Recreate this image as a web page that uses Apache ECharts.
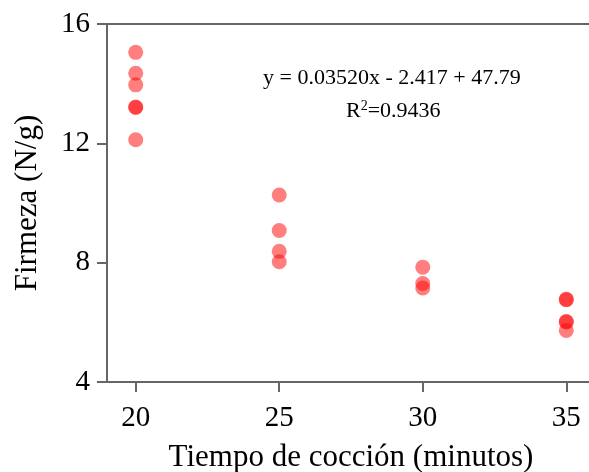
<!DOCTYPE html>
<html>
<head>
<meta charset="utf-8">
<script src="https://cdn.jsdelivr.net/npm/echarts@6/dist/echarts.min.js"></script>
<style>
  html, body { margin: 0; padding: 0; background: #fff; }
  #chart { width: 589px; height: 472px; }
</style>
</head>
<body>
<div id="chart"></div>
<script>
// firmeza medida por tiempo de coccion
const xTicks = [20, 25, 30, 35];
const yTicks = [4, 8, 12, 16];
const firm20 = [15.05, 14.35, 13.96, 13.22, 13.2, 12.12];
const firm25 = [10.27, 9.08, 8.38, 8.03];
const firm30 = [7.85, 7.3, 7.15];
const firm35 = [6.77, 6.76, 6.03, 6.01, 5.73];
const eqText = "y = 0.03520x - 2.417 + 47.79";
const r2Text = "0.9436";

const points = [];
[[20, firm20], [25, firm25], [30, firm30], [35, firm35]].forEach(([t, vals]) => {
  vals.forEach(v => points.push([t, v]));
});

const font = "'Liberation Serif', 'DejaVu Serif', serif";
const axisColor = "#666";

const chart = echarts.init(document.getElementById("chart"));
const option = {
  animation: false,
  grid: { left: 107, top: 24, width: 488, height: 358, outerBoundsMode: "none" },
  xAxis: [
    {
      type: "value",
      min: 19,
      max: 36,
      name: "Tiempo de cocción (minutos)",
      nameLocation: "middle",
      nameGap: 60,
      nameTextStyle: { fontFamily: font, fontSize: 31, color: "#000" },
      axisLine: { lineStyle: { color: axisColor, width: 2 } },
      axisTick: { show: true, length: 10, lineStyle: { color: axisColor, width: 2 }, customValues: xTicks },
      axisLabel: { fontFamily: font, fontSize: 29, color: "#000", margin: 22, customValues: xTicks },
      splitLine: { show: false }
    },
    {
      type: "value",
      position: "top",
      min: 19,
      max: 36,
      axisLine: { show: true, lineStyle: { color: axisColor, width: 2 } },
      axisTick: { show: false },
      axisLabel: { show: false },
      splitLine: { show: false }
    }
  ],
  yAxis: {
    type: "value",
    min: 4,
    max: 16,
    interval: 4,
    name: "Firmeza (N/g)",
    nameLocation: "middle",
    nameGap: 64,
    nameTextStyle: { fontFamily: font, fontSize: 31, color: "#000" },
    axisLine: { show: true, lineStyle: { color: axisColor, width: 2 } },
    axisTick: { show: true, length: 10, lineStyle: { color: axisColor, width: 2 } },
    axisLabel: { fontFamily: font, fontSize: 29, color: "#000", margin: 17 },
    splitLine: { show: false }
  },
  series: [
    {
      type: "scatter",
      data: points,
      symbolSize: 15,
      itemStyle: { color: "#ff0000", opacity: 0.5 }
    }
  ],
  graphic: [
    {
      type: "text",
      left: 263,
      top: 67,
      style: { text: eqText, font: "22px " + font, fill: "#000" }
    },
    {
      type: "text",
      left: 346,
      top: 99,
      style: {
        text: "R{sup|2}=" + r2Text,
        font: "22px " + font,
        fill: "#000",
        rich: {
          sup: { fontSize: 14, fontFamily: font, verticalAlign: "top", padding: [0, 0, 10, 0] }
        }
      }
    }
  ]
};
chart.setOption(option);
</script>
</body>
</html>
